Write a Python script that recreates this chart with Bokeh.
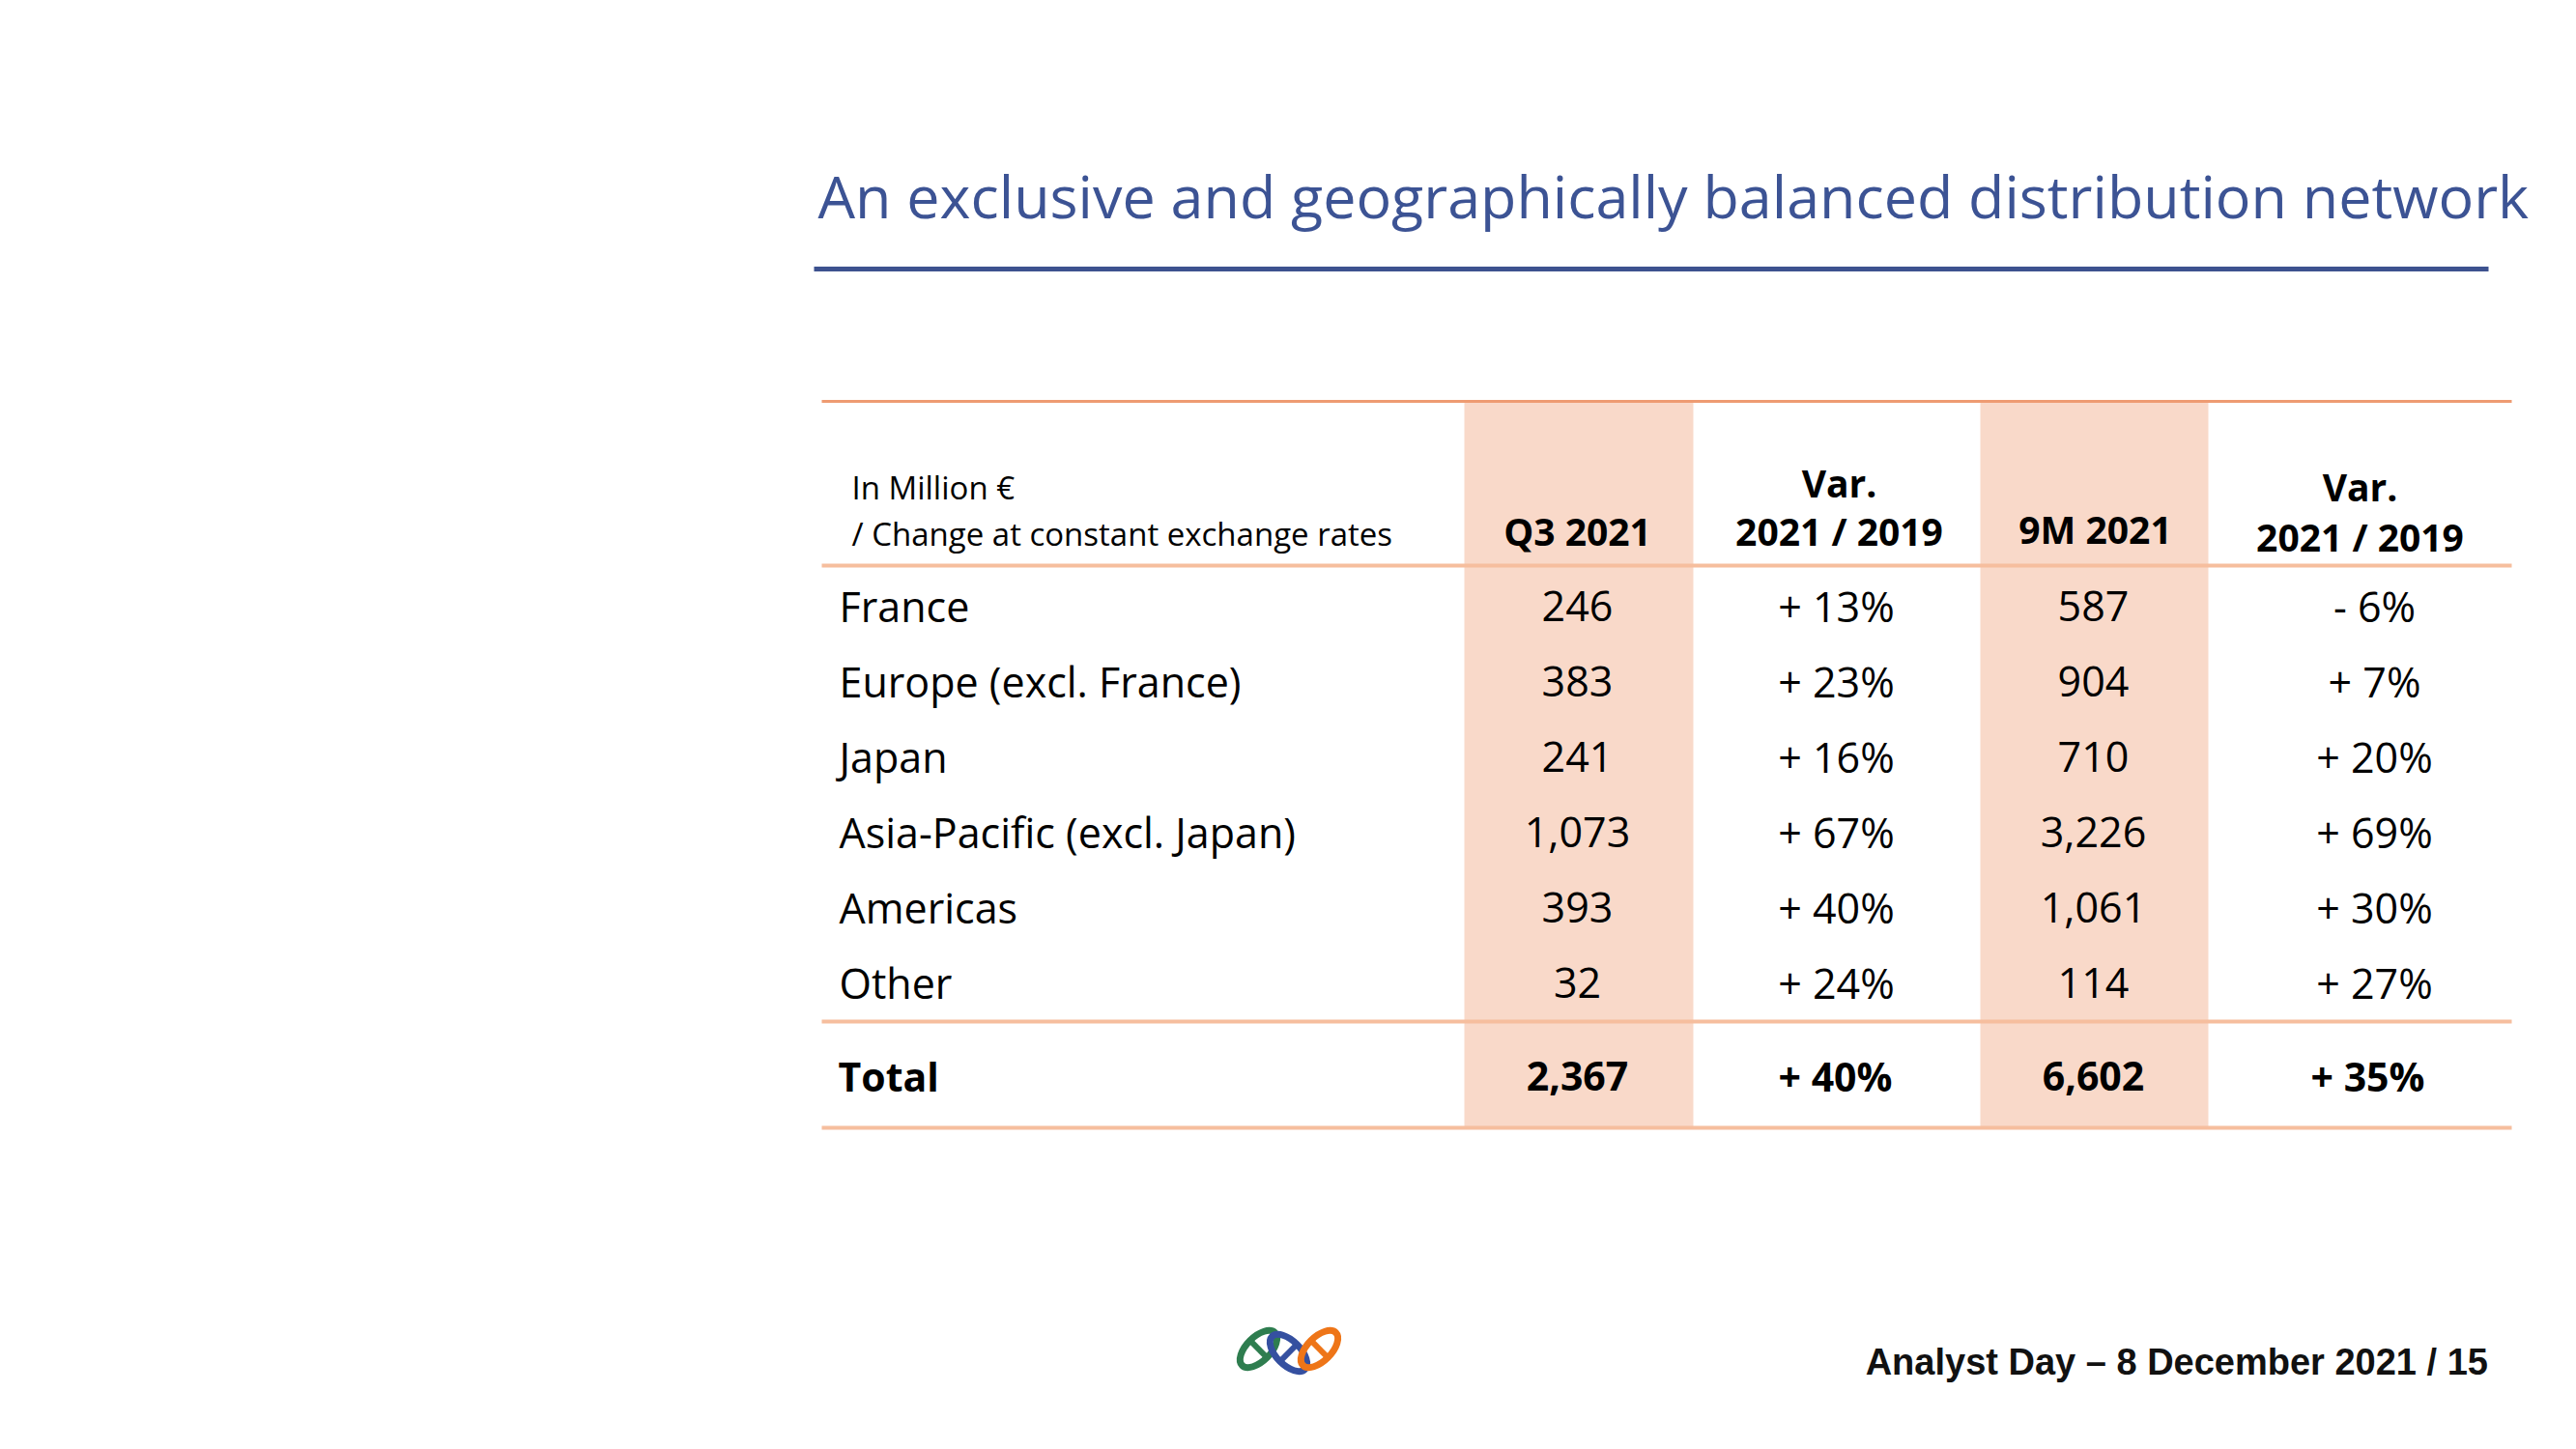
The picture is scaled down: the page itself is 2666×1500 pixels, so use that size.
import math
from bokeh.plotting import figure
from bokeh.models import Range1d
from bokeh.core.properties import value
from bokeh.embed import file_html
from bokeh.resources import INLINE

# ---------------- data ----------------
title_text = "An exclusive and geographically balanced distribution network"
header_unit = ["In Million €", "/ Change at constant exchange rates"]
col_headers = ["Q3 2021", "Var.", "2021 / 2019", "9M 2021", "Var.", "2021 / 2019"]
regions = ["France", "Europe (excl. France)", "Japan", "Asia-Pacific (excl. Japan)", "Americas", "Other"]
q3_2021 = [246, 383, 241, 1073, 393, 32]
var_q3 = [13, 23, 16, 67, 40, 24]
m9_2021 = [587, 904, 710, 3226, 1061, 114]
var_9m = [-6, 7, 20, 69, 30, 27]
total_label = "Total"
total_q3 = 2367
total_var_q3 = 40
total_9m = 6602
total_var_9m = 35
footer_text = "Analyst Day – 8 December 2021 /  15"

# ---------------- helpers ----------------
W, H = 2650, 1484


def sy(page_y):
    return 1500 - page_y


def fmt_num(v):
    return f"{v:,}"


def fmt_pct(v):
    return f"+ {v}%" if v >= 0 else f"- {abs(v)}%"


FONT = value("Open Sans")
TITLE_C = "#3C5394"
SHADE = "#F9D9C9"
LINE_DARK = "#EE9B72"
LINE_LIGHT = "#F6BE9E"

p = figure(width=W, height=H, output_backend="svg", toolbar_location=None,
           x_axis_type=None, y_axis_type=None, min_border=0,
           x_range=Range1d(0, W), y_range=Range1d(1500 - H, 1500))
p.grid.visible = False
p.outline_line_color = None
p.background_fill_color = "white"
p.border_fill_color = "white"

# title + underline
p.text(x=[846], y=[sy(228 - 26)], text=[title_text], text_font=FONT,
       text_font_size="61px", text_color=TITLE_C, text_baseline="alphabetic")
p.segment(x0=[842], y0=[sy(278)], x1=[2575], y1=[sy(278)],
          line_color="#3D528F", line_width=5)

# shaded columns
p.quad(left=[1515, 2049], right=[1752, 2285], top=[sy(414)] * 2,
       bottom=[sy(1167)] * 2, fill_color=SHADE, line_color=None)

# table rules
p.segment(x0=[850], y0=[sy(415)], x1=[2599], y1=[sy(415)], line_color=LINE_DARK, line_width=3)
p.segment(x0=[850] * 3, y0=[sy(585), sy(1057), sy(1167)], x1=[2599] * 3,
          y1=[sy(585), sy(1057), sy(1167)], line_color=LINE_LIGHT, line_width=4)

# header
p.text(x=[881, 881], y=[sy(517 - 13), sy(565 - 13)], text=header_unit, text_font=FONT,
       text_font_size="33px", text_color="black", text_baseline="alphabetic")
hx = [1632, 1903, 1903, 2168, 2442, 2442]
hy = [563, 513, 563, 561, 517, 569]
p.text(x=hx, y=[sy(v - 14.5) for v in hy], text=col_headers, text_font=FONT,
       text_font_size="39px", text_font_style="bold", text_color="black",
       text_align="center", text_baseline="alphabetic")

# data rows
row_base = [643 - 16.5 + 78 * i for i in range(len(regions))]
ry = [sy(v) for v in row_base]
p.text(x=[868] * len(regions), y=ry, text=regions, text_font=FONT,
       text_font_size="43px", text_color="black", text_baseline="alphabetic")
cols = [(1632, [fmt_num(v) for v in q3_2021]),
        (1900, [fmt_pct(v) for v in var_q3]),
        (2166, [fmt_num(v) for v in m9_2021]),
        (2457, [fmt_pct(v) for v in var_9m])]
for cx, texts in cols:
    p.text(x=[cx] * len(texts), y=ry, text=texts, text_font=FONT,
           text_font_size="43px", text_color="black", text_align="center",
           text_baseline="alphabetic")

# total row
p.text(x=[867], y=[sy(1130 - 16.5)], text=[total_label], text_font=FONT,
       text_font_size="41px", text_font_style="bold", text_color="black",
       text_baseline="alphabetic")
p.text(x=[1632, 1899, 2166, 2450], y=[sy(1130 - 16.5)] * 4,
       text=[fmt_num(total_q3), fmt_pct(total_var_q3), fmt_num(total_9m), fmt_pct(total_var_9m)],
       text_font=FONT, text_font_size="41px", text_font_style="bold",
       text_color="black", text_align="center", text_baseline="alphabetic")

# logo: three chain links
lx = [1302, 1333, 1365]
ly = [sy(1396), sy(1400), sy(1396)]
la = [math.pi / 4, -math.pi / 4, math.pi / 4]
lc = ["#2E7D4F", "#3550A0", "#EE7518"]
p.ellipse(x=lx, y=ly, width=[48] * 3, height=[25] * 3, angle=la,
          fill_color=None, line_color=lc, line_width=7)
sx0, sy0, sx1, sy1 = [], [], [], []
for x, y, a in zip(lx, ly, la):
    dx, dy = -math.sin(a) * 11, math.cos(a) * 11
    sx0.append(x - dx); sy0.append(y - dy); sx1.append(x + dx); sy1.append(y + dy)
p.segment(x0=sx0, y0=sy0, x1=sx1, y1=sy1, line_color=lc, line_width=6)

# footer
p.text(x=[2585], y=[sy(1418 - 9)], text=[footer_text], text_font=value("Liberation Sans"),
       text_font_size="38px", text_font_style="bold", text_color="#111111",
       text_align="right", text_baseline="alphabetic")

open("out.html", "w").write(file_html(p, INLINE))
